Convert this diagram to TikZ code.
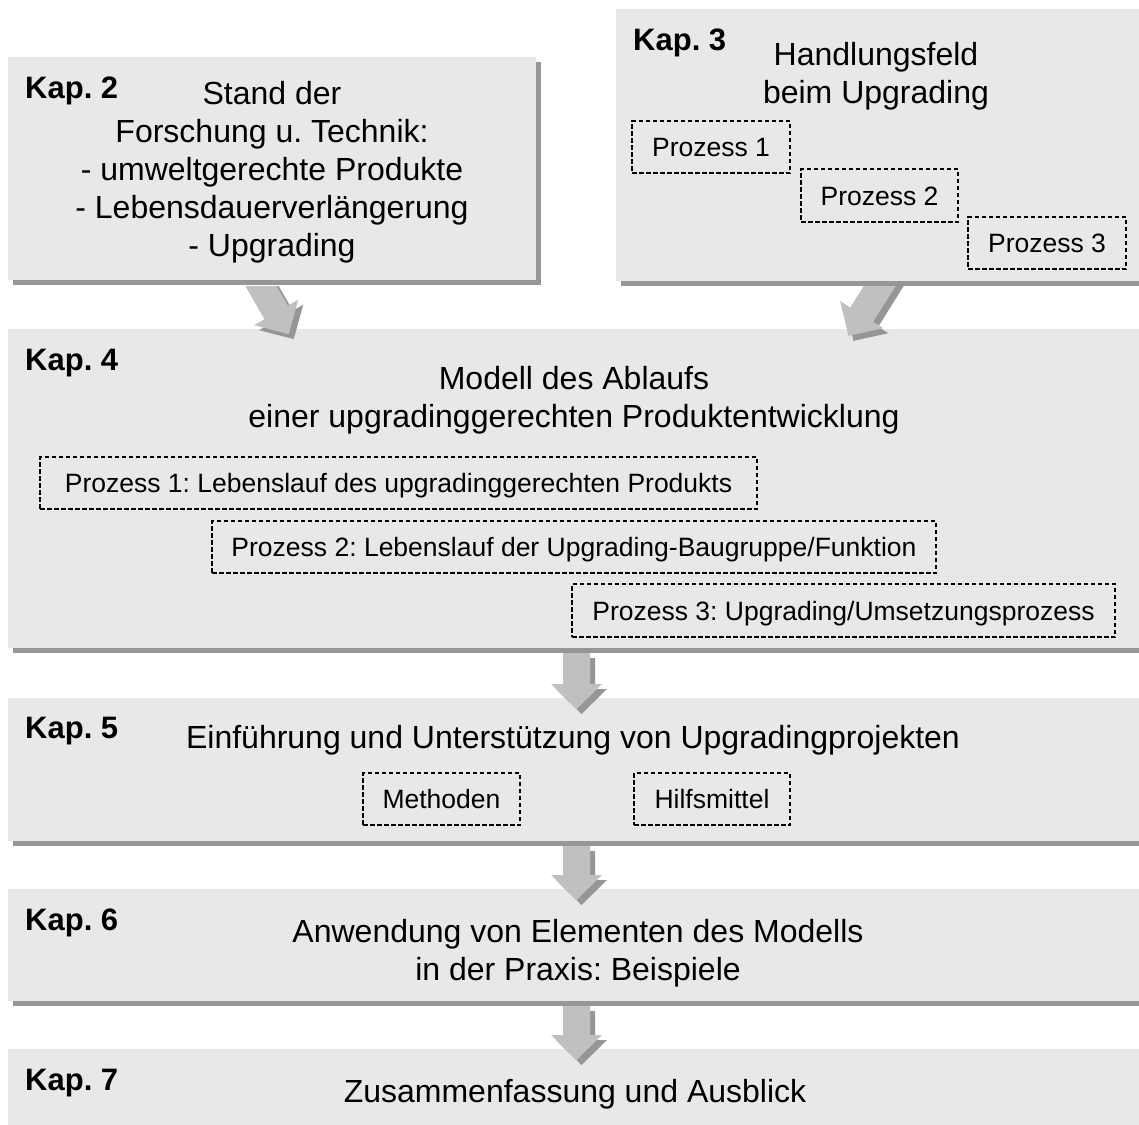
\documentclass[tikz,border=0pt]{standalone}
\usepackage{fontspec}
\setmainfont{Liberation Sans}
\frenchspacing
\usetikzlibrary{shadows,calc}
\definecolor{boxfill}{HTML}{E8E8E8}
\definecolor{shadowgray}{HTML}{969696}
\definecolor{arrowfill}{HTML}{C0C0C0}
\tikzset{
 chapbox/.style={fill=boxfill, draw=none, inner sep=0pt, anchor=north west,
   drop shadow={shadow xshift=5pt, shadow yshift=-5pt, fill=shadowgray, opacity=1}},
 kaplabel/.style={font=\fontsize{31}{37}\selectfont\bfseries, anchor=base west, inner sep=0pt},
 titletext/.style={font=\fontsize{32}{38}\selectfont, align=center, anchor=base, inner sep=0pt},
 procbox/.style={draw=black, line width=1.2pt, dash pattern=on 4.5pt off 2.5pt,
   font=\fontsize{26.5}{31}\selectfont, inner sep=0pt, text height=19pt, text depth=0pt},
}
\newcommand\fatarrow[3]{%
 \begin{scope}[shift={($(#1)+(5,5)$)}, rotate=#2]
   \fill[shadowgray] (-13.5,0) -- (-13.5,#3-25) -- (-25.5,#3-25) -- (0,#3) -- (25.5,#3-25) -- (13.5,#3-25) -- (13.5,0) -- cycle;
 \end{scope}
 \begin{scope}[shift={(#1)}, rotate=#2]
   \fill[arrowfill] (-13.5,0) -- (-13.5,#3-25) -- (-25.5,#3-25) -- (0,#3) -- (25.5,#3-25) -- (13.5,#3-25) -- (13.5,0) -- cycle;
 \end{scope}}
\begin{document}
\begin{tikzpicture}[x=1pt,y=-1pt]
\useasboundingbox (0,0) rectangle (1139,1124);
% chapter boxes
\node[chapbox, minimum width=528pt, minimum height=223pt] (k2) at (8,57) {};
\node[chapbox, minimum width=534pt, minimum height=272pt] (k3) at (616,9) {};
\node[chapbox, minimum width=1142pt, minimum height=319pt] (k4) at (8,329) {};
\node[chapbox, minimum width=1142pt, minimum height=143pt] (k5) at (8,698) {};
\node[chapbox, minimum width=1142pt, minimum height=112pt] (k6) at (8,889) {};
\node[chapbox, minimum width=1142pt, minimum height=81pt] (k7) at (8,1049) {};
% labels
\node[kaplabel] (l2) at (25,98) {Kap. 2};
\node[kaplabel] (l3) at (633,50) {Kap. 3};
\node[kaplabel] (l4) at (25,370) {Kap. 4};
\node[kaplabel] (l5) at (25,738) {Kap. 5};
\node[kaplabel] (l6) at (25,930) {Kap. 6};
\node[kaplabel] (l7) at (25,1090) {Kap. 7};
% titles (base anchor = baseline of the last line)
\node[titletext] (t2) at (272,256) {Stand der\\Forschung u. Technik:\\- umweltgerechte Produkte\\- Lebensdauerverlängerung\\- Upgrading};
\node[titletext] (t3) at (876,103) {Handlungsfeld\\beim Upgrading};
\node[titletext] (t4) at (574,427) {Modell des Ablaufs\\einer upgradinggerechten Produktentwicklung};
\node[titletext] (t5) at (573,748) {Einführung und Unterstützung von Upgradingprojekten};
\node[titletext] (t6) at (578,980) {Anwendung von Elementen des Modells\\in der Praxis: Beispiele};
\node[titletext] (t7) at (575,1102) {Zusammenfassung und Ausblick};
% process boxes
\node[procbox, minimum width=158pt, minimum height=52pt] (p31) at (711,147) {Prozess 1};
\node[procbox, minimum width=157pt, minimum height=53pt] (p32) at (879.5,195.5) {Prozess 2};
\node[procbox, minimum width=158pt, minimum height=52pt] (p33) at (1047,243) {Prozess 3};
\node[procbox, minimum width=717pt, minimum height=52pt] (p41) at (398.5,483) {Prozess 1: Lebenslauf des upgradinggerechten Produkts};
\node[procbox, minimum width=724pt, minimum height=52pt] (p42) at (574,547) {Prozess 2: Lebenslauf der Upgrading-Baugruppe/Funktion};
\node[procbox, minimum width=543pt, minimum height=53pt] (p43) at (843.5,610.5) {Prozess 3: Upgrading/Umsetzungsprozess};
\node[procbox, minimum width=157pt, minimum height=52pt] (m5) at (441.5,799) {Methoden};
\node[procbox, minimum width=156pt, minimum height=52pt] (h5) at (712,799) {Hilfsmittel};
% arrows
\coordinate (a2) at (251.7,270);
\coordinate (a3) at (887.7,273.1);
\coordinate (a45) at (576.5,653);
\coordinate (a56) at (576.5,846);
\coordinate (a67) at (576.5,1006);
\begin{scope}
  \clip (0,286) rectangle (1139,400);
  \fatarrow{a2}{30}{74}
  \fatarrow{a3}{-32}{74}
\end{scope}
\fatarrow{a45}{0}{56}
\fatarrow{a56}{0}{54}
\fatarrow{a67}{0}{54}
\end{tikzpicture}
\end{document}
